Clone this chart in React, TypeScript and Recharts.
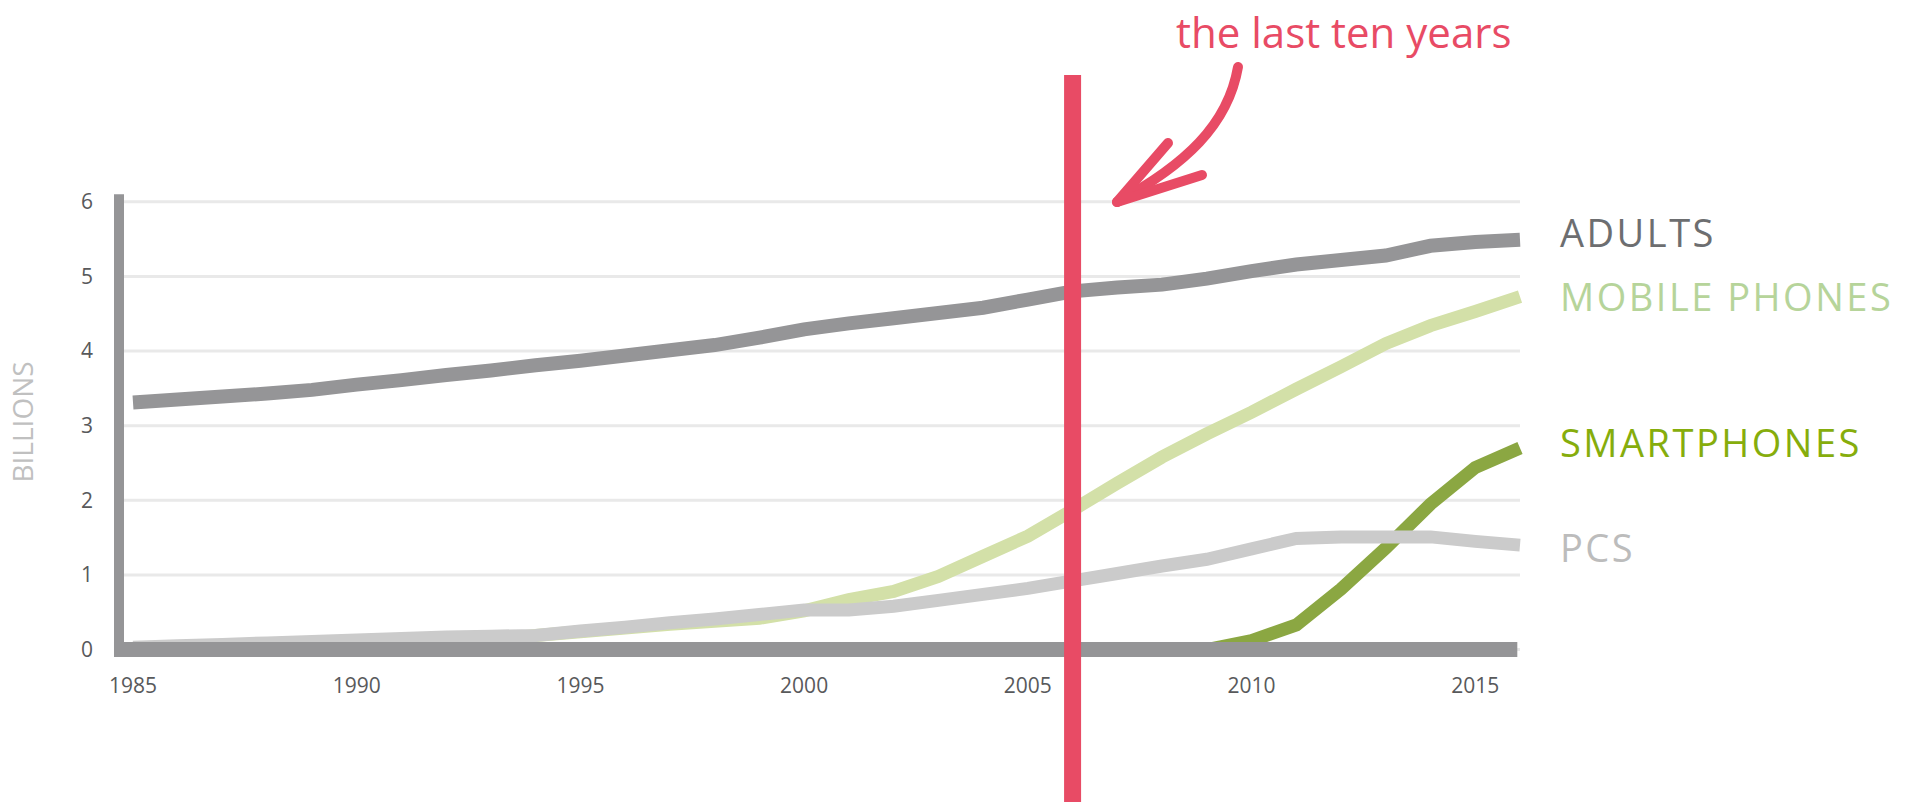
import { CartesianGrid, Label, Line, LineChart, ReferenceLine, XAxis, YAxis } from 'recharts';

const years = [
  1985, 1986, 1987, 1988, 1989, 1990, 1991, 1992, 1993, 1994, 1995, 1996, 1997, 1998, 1999, 2000,
  2001, 2002, 2003, 2004, 2005, 2006, 2007, 2008, 2009, 2010, 2011, 2012, 2013, 2014, 2015, 2016,
];

// billions
const adults = [
  3.31, 3.35, 3.39, 3.43, 3.48, 3.55, 3.61, 3.68, 3.74, 3.81, 3.87, 3.94, 4.01, 4.08, 4.18, 4.29,
  4.37, 4.44, 4.51, 4.58, 4.69, 4.8, 4.85, 4.89, 4.97, 5.07, 5.16, 5.22, 5.28, 5.41, 5.46, 5.49,
];
const mobilePhones = [
  null, null, null, null, null, 0, 0.04, 0.08, 0.13, 0.19, 0.24, 0.29, 0.34, 0.38, 0.42, 0.52,
  0.67, 0.78, 0.98, 1.25, 1.52, 1.87, 2.23, 2.58, 2.89, 3.18, 3.49, 3.79, 4.1, 4.34, 4.53, 4.73,
];
const smartphones = [
  null, null, null, null, null, null, null, null, null, null, null, null, null, null, null, null,
  null, null, null, null, null, null, null, null, 0, 0.12, 0.33, 0.81, 1.36, 1.95, 2.44, 2.7,
];
const pcs = [
  0.03, 0.05, 0.07, 0.09, 0.11, 0.13, 0.15, 0.17, 0.18, 0.19, 0.25, 0.3, 0.36, 0.41, 0.47, 0.53,
  0.53, 0.58, 0.66, 0.74, 0.82, 0.92, 1.02, 1.12, 1.21, 1.35, 1.49, 1.51, 1.51, 1.51, 1.45, 1.4,
];

const xTicks = [1985, 1990, 1995, 2000, 2005, 2010, 2015];
const yTicks = [0, 1, 2, 3, 4, 5, 6];
const cutoffYear = 2006;

const data = years.map((year, i) => ({
  year,
  adults: adults[i],
  mobile: mobilePhones[i],
  smart: smartphones[i],
  pcs: pcs[i],
}));

// drawing order matters: PCs sit on top of smartphones
const series = [
  { key: 'mobile', label: 'MOBILE PHONES', color: '#d3e0a8', text: '#b6d49a', width: 13, dy: 14 },
  { key: 'smart', label: 'SMARTPHONES', color: '#8ba742', text: '#86ad0c', width: 13, dy: 9 },
  { key: 'pcs', label: 'PCS', color: '#cbcbcb', text: '#bcbcbc', width: 13, dy: 17 },
  { key: 'adults', label: 'ADULTS', color: '#959597', text: '#6d6e70', width: 14, dy: 7 },
] as const;

const font = "'Open Sans', sans-serif";
const red = '#e84b65';
const axisGray = '#959597';
const tickStyle = { fill: '#58595b', fontSize: 21, fontWeight: 500, fontFamily: font };

function endLabel(item: (typeof series)[number]) {
  return (props: any) => {
    if (props.index !== years.length - 1) return null;
    return (
      <text
        x={props.x + 40}
        y={props.y + item.dy}
        fill={item.text}
        fontSize={38}
        fontWeight={500}
        fontFamily={font}
        letterSpacing={2.5}
      >
        {item.label}
      </text>
    );
  };
}

export default function App() {
  return (
    <div
      style={{
        position: 'absolute',
        left: 0,
        top: 0,
        width: 1906,
        height: 802,
        overflow: 'hidden',
        background: '#fff',
        fontFamily: font,
      }}
    >
      <LineChart
        width={1906}
        height={802}
        data={data}
        margin={{ top: 194.3, right: 386, bottom: 92.4, left: 0 }}
      >
        <CartesianGrid
          vertical={false}
          horizontalValues={yTicks}
          stroke="#e9e9e9"
          strokeWidth={3}
        />
        <XAxis
          dataKey="year"
          type="number"
          domain={[1984.687, 2016]}
          ticks={xTicks}
          interval={0}
          height={60}
          axisLine={false}
          tickLine={false}
          tickSize={0}
          tickMargin={28}
          tick={tickStyle}
        />
        <YAxis
          type="number"
          domain={[0, 6.1]}
          ticks={yTicks}
          interval={0}
          width={119}
          axisLine={false}
          tickLine={false}
          tickSize={0}
          tickMargin={26}
          tick={tickStyle}
        >
          <Label
            value="BILLIONS"
            angle={-90}
            position="insideLeft"
            offset={23}
            style={{ textAnchor: 'middle', fill: '#c0c0c0', fontSize: 28, fontFamily: font }}
          />
        </YAxis>
        {series.map((item) => (
          <Line
            key={item.key}
            type="linear"
            dataKey={item.key}
            stroke={item.color}
            strokeWidth={item.width}
            dot={false}
            activeDot={false}
            isAnimationActive={false}
            label={endLabel(item)}
          />
        ))}
        <ReferenceLine
          segment={[
            { x: 1984.687, y: 0 },
            { x: 1984.687, y: 6.1 },
          ]}
          stroke={axisGray}
          strokeWidth={10}
          ifOverflow="visible"
        />
        <ReferenceLine
          segment={[
            { x: 1984.575, y: 0 },
            { x: 2015.94, y: 0 },
          ]}
          stroke={axisGray}
          strokeWidth={15}
          ifOverflow="visible"
        />
        <ReferenceLine
          segment={[
            { x: cutoffYear, y: 7.7 },
            { x: cutoffYear, y: -2.3 },
          ]}
          stroke={red}
          strokeWidth={17}
          ifOverflow="visible"
        />
      </LineChart>

      <svg
        width={1906}
        height={802}
        style={{ position: 'absolute', left: 0, top: 0, pointerEvents: 'none' }}
      >
        <text x={1176} y={48} fill={red} fontSize={42} fontFamily={font}>
          the last ten years
        </text>
        <g fill="none" stroke={red} strokeWidth={10} strokeLinecap="round" strokeLinejoin="round">
          <path d="M1238,67 C1228,125 1185,165 1117,202" />
          <path d="M1168,143 L1117,202 L1202,175" />
        </g>
      </svg>
    </div>
  );
}
